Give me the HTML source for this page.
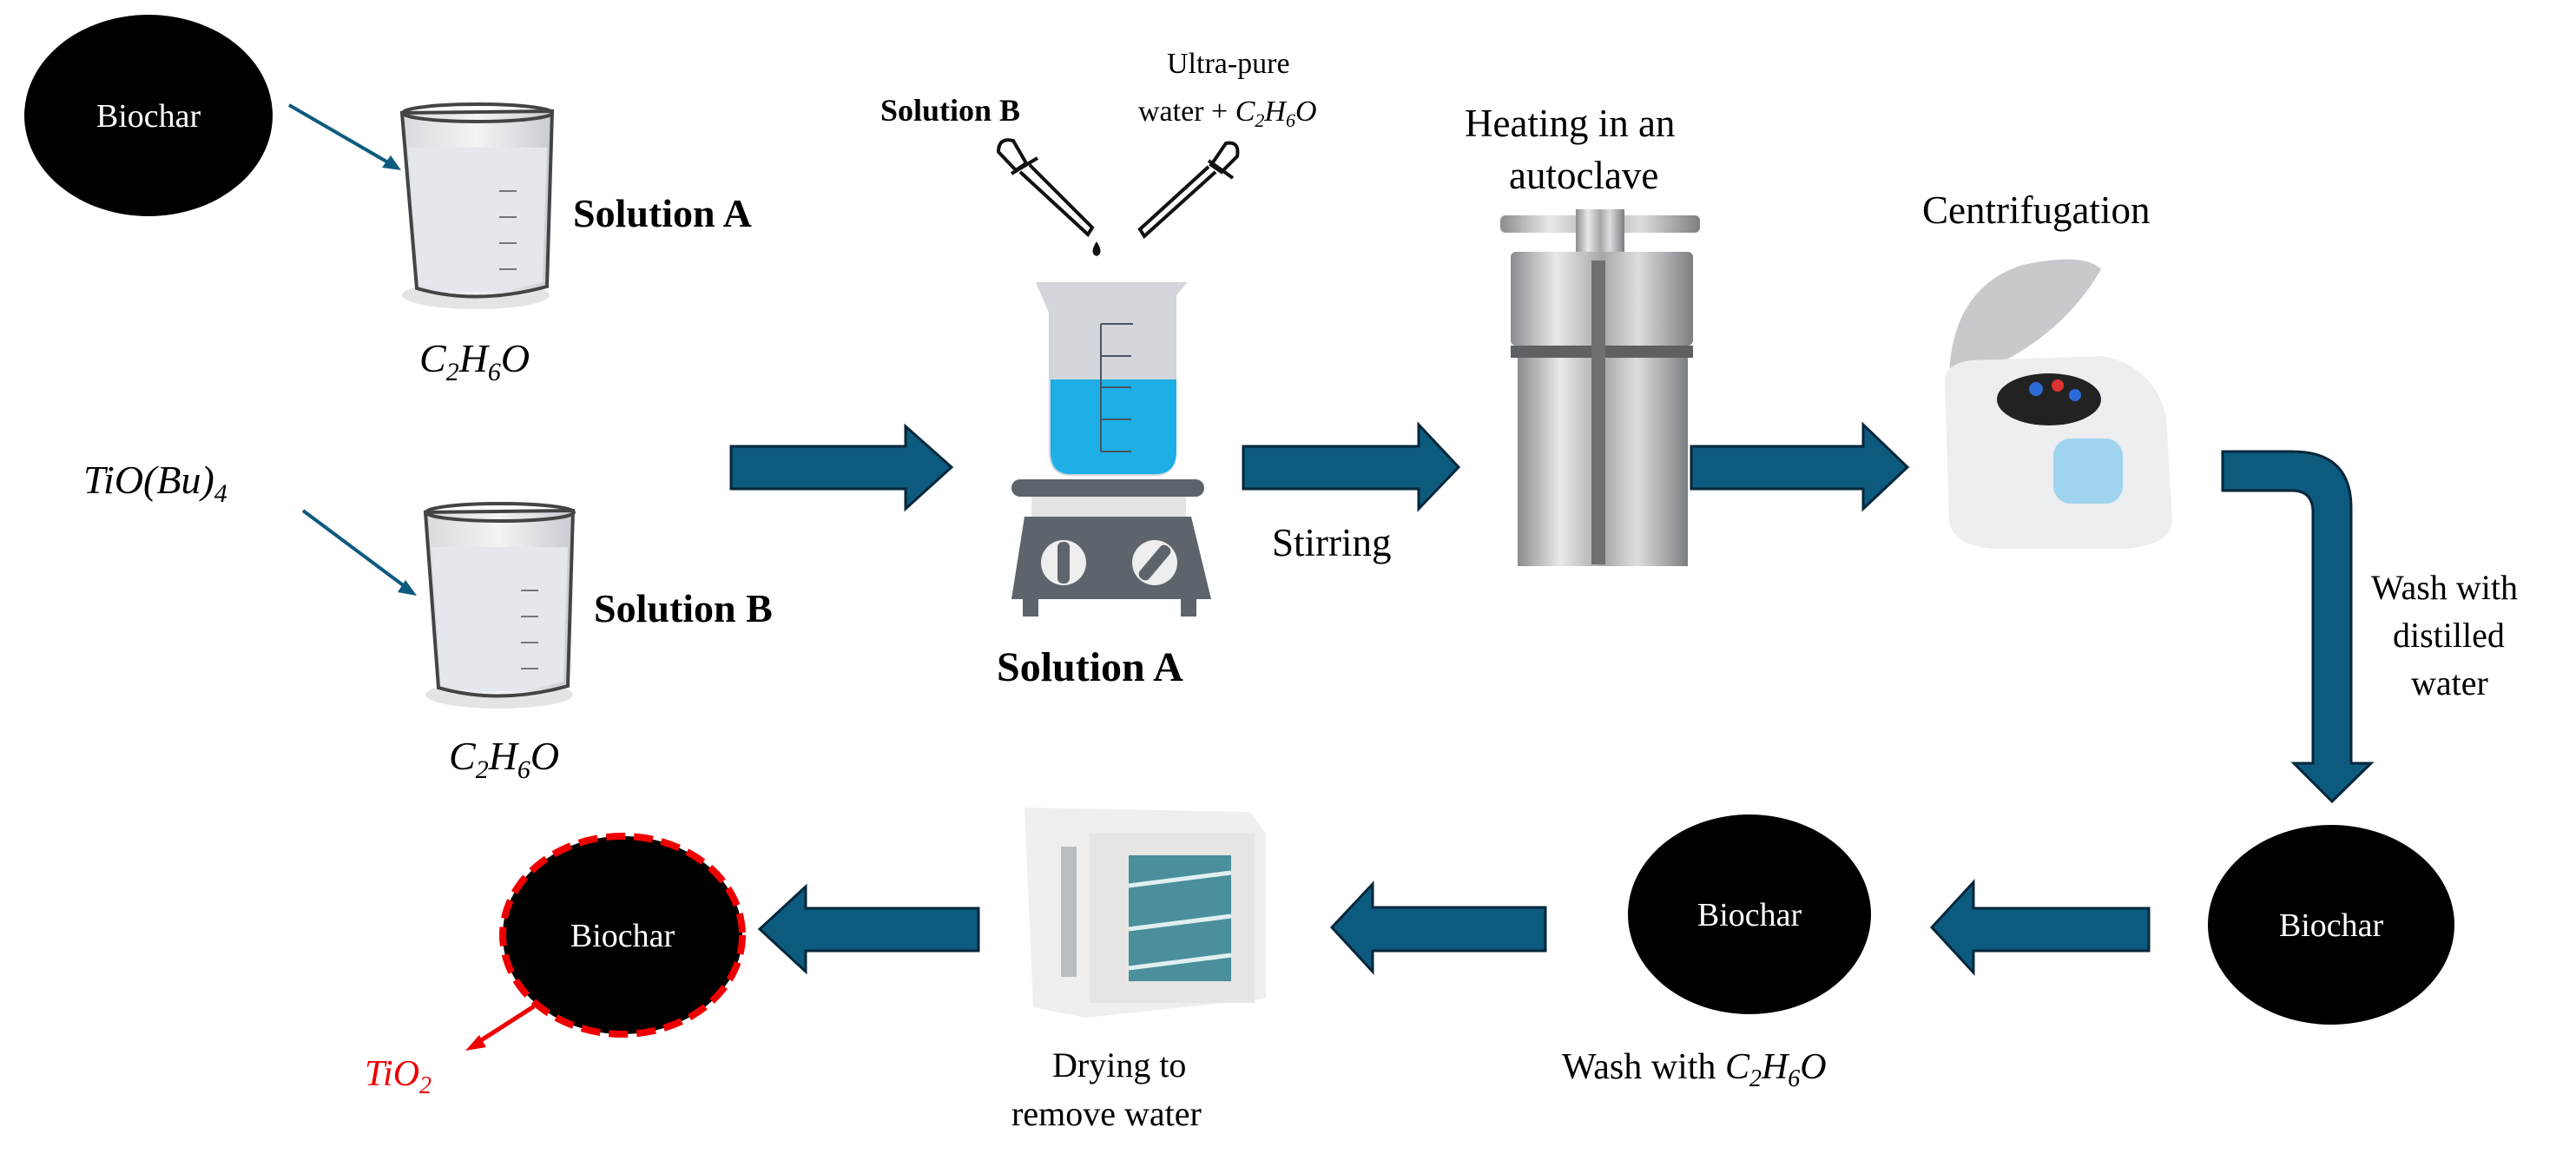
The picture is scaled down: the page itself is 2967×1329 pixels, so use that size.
<!DOCTYPE html>
<html><head><meta charset="utf-8"><style>
html,body{margin:0;padding:0;background:#fff}
svg{display:block}
text{font-family:"Liberation Serif",serif}
.m{font-style:italic}
</style></head><body>
<svg width="2967" height="1329" viewBox="0 0 2967 1329" xmlns="http://www.w3.org/2000/svg">
<defs>
<linearGradient id="steel" x1="0" x2="1"><stop offset="0" stop-color="#8a8d90"/><stop offset=".25" stop-color="#e8e9ea"/><stop offset=".5" stop-color="#a5a8ab"/><stop offset=".7" stop-color="#dcdddf"/><stop offset="1" stop-color="#7c7f82"/></linearGradient>
<linearGradient id="glass" x1="0" x2="1"><stop offset="0" stop-color="#d8dade"/><stop offset=".5" stop-color="#f3f4f6"/><stop offset="1" stop-color="#c9ccd1"/></linearGradient>
</defs>

<!-- Biochar top-left -->
<ellipse cx="171" cy="133" rx="143" ry="116" fill="#000"/>
<text x="171" y="146" font-size="38" fill="#fff" text-anchor="middle">Biochar</text>
<line x1="333" y1="121" x2="452" y2="190" stroke="#0d5a7f" stroke-width="4"/>
<polygon points="462,196 440,193 450,179" fill="#0d5a7f"/>

<!-- Beaker A -->
<g>
<ellipse cx="548" cy="340" rx="85" ry="16" fill="#e3e4e6"/>
<path d="M463,130 L636,128 L630,330 Q548,352 480,332 Z" fill="url(#glass)" stroke="#444" stroke-width="4"/>
<path d="M470,170 L630,170 L625,325 Q548,346 482,328 Z" fill="#e4e7ec"/>
<ellipse cx="550" cy="130" rx="86" ry="10" fill="none" stroke="#444" stroke-width="4"/>
<g stroke="#777" stroke-width="2"><line x1="575" y1="220" x2="595" y2="220"/><line x1="575" y1="250" x2="595" y2="250"/><line x1="575" y1="280" x2="595" y2="280"/><line x1="575" y1="310" x2="595" y2="310"/></g>
</g>
<text x="660" y="261" font-size="46" font-weight="bold">Solution A</text>
<text x="483" y="428" font-size="46" class="m">C<tspan font-size="30" dy="10">2</tspan><tspan dy="-10">H</tspan><tspan font-size="30" dy="10">6</tspan><tspan dy="-10">O</tspan></text>

<!-- TiO(Bu)4 -->
<text x="96" y="568" font-size="46" class="m">TiO(Bu)<tspan font-size="30" dy="10">4</tspan></text>
<line x1="349" y1="588" x2="471" y2="679" stroke="#0d5a7f" stroke-width="4"/>
<polygon points="480,686 458,682 467,668" fill="#0d5a7f"/>

<!-- Beaker B -->
<g>
<ellipse cx="575" cy="800" rx="85" ry="16" fill="#e3e4e6"/>
<path d="M490,590 L660,588 L654,790 Q575,812 505,792 Z" fill="url(#glass)" stroke="#444" stroke-width="4"/>
<path d="M497,630 L654,630 L649,785 Q575,806 508,788 Z" fill="#e4e7ec"/>
<ellipse cx="576" cy="590" rx="85" ry="10" fill="none" stroke="#444" stroke-width="4"/>
<g stroke="#777" stroke-width="2"><line x1="600" y1="680" x2="620" y2="680"/><line x1="600" y1="710" x2="620" y2="710"/><line x1="600" y1="740" x2="620" y2="740"/><line x1="600" y1="770" x2="620" y2="770"/></g>
</g>
<text x="684" y="716" font-size="46" font-weight="bold">Solution B</text>
<text x="517" y="886" font-size="46" class="m">C<tspan font-size="30" dy="10">2</tspan><tspan dy="-10">H</tspan><tspan font-size="30" dy="10">6</tspan><tspan dy="-10">O</tspan></text>

<!-- Arrows row 1 -->
<g fill="#0d5a7f" stroke="#05273a" stroke-width="3">
<polygon points="842,514 1043,514 1043,491 1096,538 1043,586 1043,563 842,563"/>
<polygon points="1432,514 1634,514 1634,489 1680,538 1634,586 1634,563 1432,563"/>
<polygon points="1948,514 2146,514 2146,489 2197,538 2146,586 2146,563 1948,563"/>
<path d="M2560,520 L2640,520 Q2708,520 2708,585 L2708,879 L2731,879 L2686,923 L2642,879 L2664,879 L2664,590 Q2664,565 2640,565 L2560,565 Z"/>
</g>

<!-- droppers -->
<text x="1014" y="139" font-size="36" font-weight="bold">Solution B</text>
<text x="1344" y="84" font-size="34">Ultra-pure</text>
<text x="1311" y="139" font-size="34">water + <tspan class="m">C</tspan><tspan class="m" font-size="22" dy="7">2</tspan><tspan class="m" dy="-7">H</tspan><tspan class="m" font-size="22" dy="7">6</tspan><tspan class="m" dy="-7">O</tspan></text>
<g fill="none" stroke="#111" stroke-width="4">
<path d="M1150,175 Q1150,158 1167,162 L1182,188 L1170,196 Z"/>
<path d="M1165,200 L1195,182"/>
<path d="M1175,198 L1253,270 L1258,262 L1186,190"/>
<path d="M1425,180 Q1428,162 1412,165 L1395,190 L1407,198 Z"/>
<path d="M1392,185 L1420,205"/>
<path d="M1400,198 L1318,272 L1313,264 L1392,192"/>
</g>
<path d="M1263,278 Q1254,292 1263,295 Q1272,292 1263,278 Z" fill="#111"/>

<!-- stirrer -->
<path d="M1193,325 L1368,325 L1355,340 L1355,520 Q1355,548 1330,548 L1233,548 Q1208,548 1208,520 L1208,360 Z" fill="#d3d6db"/>
<path d="M1210,437 L1355,437 L1355,520 Q1355,546 1330,546 L1233,546 Q1210,546 1210,520 Z" fill="#1eaee6"/>
<g stroke="#4a5560" stroke-width="2"><line x1="1268" y1="373" x2="1268" y2="520"/><line x1="1268" y1="373" x2="1305" y2="373"/><line x1="1268" y1="410" x2="1303" y2="410"/><line x1="1268" y1="446" x2="1303" y2="446"/><line x1="1268" y1="483" x2="1303" y2="483"/><line x1="1268" y1="520" x2="1303" y2="520"/></g>
<rect x="1165" y="552" width="222" height="20" rx="10" fill="#5d646c"/>
<rect x="1188" y="572" width="178" height="23" fill="#e2e4e6"/>
<path d="M1180,595 L1372,595 L1395,690 L1165,690 Z" fill="#5d646c"/>
<rect x="1178" y="688" width="18" height="22" fill="#5d646c"/><rect x="1360" y="688" width="18" height="22" fill="#5d646c"/>
<circle cx="1225" cy="648" r="26" fill="#eee"/><rect x="1218" y="624" width="14" height="48" rx="6" fill="#5d646c"/>
<circle cx="1330" cy="648" r="26" fill="#eee"/><rect x="1323" y="624" width="14" height="48" rx="6" fill="#5d646c" transform="rotate(40 1330 648)"/>
<text x="1148" y="784" font-size="48" font-weight="bold">Solution A</text>

<text x="1465" y="640" font-size="45">Stirring</text>

<!-- autoclave -->
<text x="1687" y="157" font-size="45">Heating in an</text>
<text x="1738" y="217" font-size="45">autoclave</text>
<rect x="1728" y="248" width="230" height="20" rx="6" fill="url(#steel)"/>
<rect x="1815" y="241" width="56" height="50" fill="url(#steel)"/>
<rect x="1740" y="290" width="210" height="108" rx="6" fill="url(#steel)"/>
<rect x="1740" y="398" width="210" height="14" fill="#5e6164"/>
<rect x="1748" y="412" width="196" height="240" fill="url(#steel)"/>
<rect x="1833" y="300" width="16" height="350" fill="#6e7174"/>

<!-- centrifuge -->
<text x="2214" y="257" font-size="45">Centrifugation</text>
<path d="M2245,430 Q2250,330 2330,305 Q2400,290 2420,310 Q2380,380 2300,420 Z" fill="#c7c9cc"/>
<path d="M2240,440 Q2238,420 2270,415 L2420,410 Q2480,420 2495,480 L2502,600 Q2500,630 2440,632 L2300,632 Q2250,630 2245,600 Z" fill="#eceeef"/>
<ellipse cx="2360" cy="460" rx="60" ry="30" fill="#222"/>
<circle cx="2345" cy="448" r="8" fill="#2c6bd6"/><circle cx="2370" cy="444" r="7" fill="#d33"/><circle cx="2390" cy="455" r="7" fill="#2c6bd6"/>
<rect x="2365" y="505" width="80" height="75" rx="20" fill="#9fd3ee"/>

<text x="2731" y="690" font-size="40">Wash with</text>
<text x="2756" y="745" font-size="40">distilled</text>
<text x="2777" y="800" font-size="40">water</text>

<!-- bottom row -->
<ellipse cx="2685" cy="1065" rx="142" ry="115" fill="#000"/>
<text x="2685" y="1078" font-size="38" fill="#fff" text-anchor="middle">Biochar</text>
<ellipse cx="2015" cy="1053" rx="140" ry="115" fill="#000"/>
<text x="2015" y="1066" font-size="38" fill="#fff" text-anchor="middle">Biochar</text>
<ellipse cx="717" cy="1077" rx="138" ry="114" fill="#000" stroke="#e00" stroke-width="8" stroke-dasharray="22 10"/>
<text x="717" y="1090" font-size="38" fill="#fff" text-anchor="middle">Biochar</text>

<g fill="#0d5a7f" stroke="#05273a" stroke-width="3">
<polygon points="2475,1046 2273,1046 2273,1016 2225,1068 2273,1120 2273,1095 2475,1095"/>
<polygon points="1780,1045 1581,1045 1581,1018 1534,1068 1581,1119 1581,1095 1780,1095"/>
<polygon points="1127,1046 928,1046 928,1021 875,1070 928,1119 928,1095 1127,1095"/>
</g>

<!-- oven -->
<path d="M1180,930 L1440,935 L1458,960 L1458,1150 L1250,1172 L1190,1160 Z" fill="#f1efee"/>
<rect x="1255" y="960" width="190" height="195" fill="#e8e6e4"/>
<rect x="1300" y="985" width="118" height="145" fill="#4a8f9b"/>
<g stroke="#dfeff2" stroke-width="5"><line x1="1300" y1="1020" x2="1418" y2="1005"/><line x1="1300" y1="1070" x2="1418" y2="1055"/><line x1="1300" y1="1115" x2="1418" y2="1100"/></g>
<rect x="1222" y="975" width="18" height="150" fill="#b9bcc0"/>

<text x="1212" y="1240" font-size="40">Drying to</text>
<text x="1165" y="1296" font-size="40">remove water</text>
<text x="1799" y="1242" font-size="42">Wash with <tspan class="m">C</tspan><tspan class="m" font-size="28" dy="9">2</tspan><tspan class="m" dy="-9">H</tspan><tspan class="m" font-size="28" dy="9">6</tspan><tspan class="m" dy="-9">O</tspan></text>

<line x1="615" y1="1159" x2="548" y2="1202" stroke="#e00" stroke-width="5"/>
<polygon points="536,1210 552,1192 560,1206" fill="#e00"/>
<text x="420" y="1250" font-size="42" fill="#e00" class="m">TiO<tspan font-size="28" dy="9">2</tspan></text>
</svg>
</body></html>
